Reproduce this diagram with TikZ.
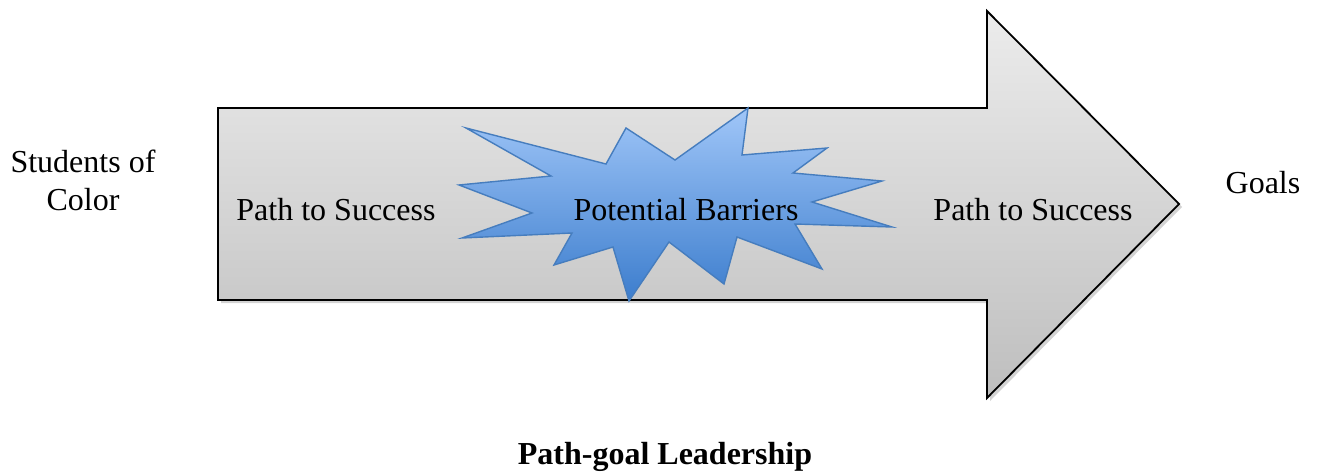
\documentclass[tikz,border=0pt]{standalone}
\usepackage{fontspec}
\setmainfont{Liberation Serif}
\usepackage{tikz}
\usetikzlibrary{shadows,positioning}

\definecolor{arrowtop}{RGB}{236,236,236}
\definecolor{arrowbot}{RGB}{190,190,190}
\definecolor{bursttop}{RGB}{160,198,248}
\definecolor{burstbot}{RGB}{60,125,205}
\definecolor{burstline}{RGB}{70,125,190}

\tikzset{
  txtnode/.style={font=\rmfamily\fontsize{16}{19}\selectfont, align=center, inner sep=0pt},
  pathshape/.style={draw=black, line width=0.9pt, top color=arrowtop, bottom color=arrowbot,
    drop shadow={opacity=0.35, shadow xshift=1.5pt, shadow yshift=-1.5pt}},
  burstshape/.style={draw=burstline, line width=0.7pt, top color=bursttop, bottom color=burstbot}
}

\begin{document}
\begin{tikzpicture}[x=0.5pt,y=-0.5pt]
\useasboundingbox (0,0) rectangle (1333,476);
			% big arrow
			\draw[pathshape](218,108)--(987,108)--(987,11)--(1179,204)--(987,398)--(987,300)--(218,300)--cycle;
			% barriers burst
			\draw[burstshape](748,108)--(742,155)--(827,148)--(793,173)--(882,181)--(812,202)--(892,227)
				--(795,224)--(822,269)--(737,237)--(724,284)--(669,242)--(629,301)--(613,247)--(554,265)
				--(572,233)--(462,238)--(532,213)--(459,185)--(551,176)--(466,128)--(606,164)--(626,128)
				--(675,160)--cycle;
			\node[txtnode] (students) at (83,180) {Students of\\Color};
			\node[txtnode] (pathA) at (336,210) {Path to Success};
			\node[txtnode] (barriers) at (686,210) {Potential Barriers};
			\node[txtnode] (pathB) at (1033,210) {Path to Success};
			\node[txtnode] (goals) at (1263,183) {Goals};
			\node[txtnode,font=\rmfamily\fontsize{16}{19}\selectfont\bfseries] (title) at (665,457) {Path-goal Leadership};
		\end{tikzpicture}
\end{document}
